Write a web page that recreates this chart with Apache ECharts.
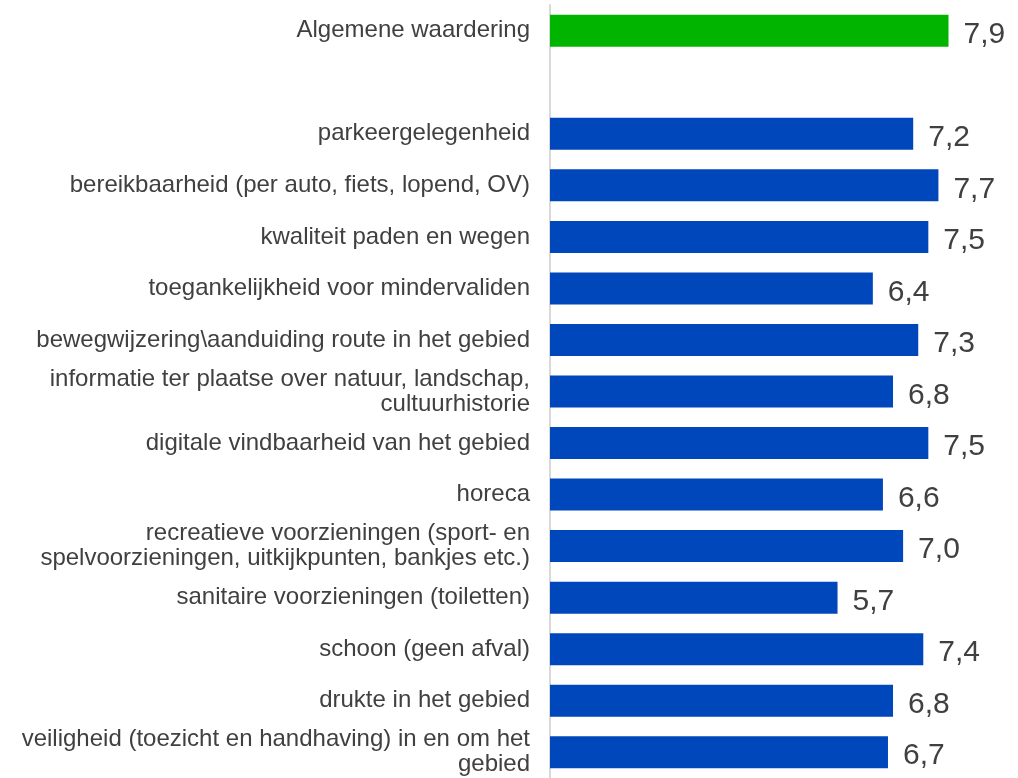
<!DOCTYPE html>
<html>
<head>
<meta charset="utf-8">
<title>Waardering gebied</title>
<script src="https://cdn.jsdelivr.net/npm/echarts@6/dist/echarts.min.js"></script>
<style>
  html, body { margin: 0; padding: 0; background: #fff; }
  #chart { width: 1018px; height: 778px; }
</style>
</head>
<body>
<div id="chart"></div>
<script>
// Rows from top to bottom; the empty row is the gap under the overall score
const categories = [
    'Algemene waardering',
    '',
    'parkeergelegenheid',
    'bereikbaarheid (per auto, fiets, lopend, OV)',
    'kwaliteit paden en wegen',
    'toegankelijkheid voor mindervaliden',
    'bewegwijzering\\aanduiding route in het gebied',
    'informatie ter plaatse over natuur, landschap,\ncultuurhistorie',
    'digitale vindbaarheid van het gebied',
    'horeca',
    'recreatieve voorzieningen (sport- en\nspelvoorzieningen, uitkijkpunten, bankjes etc.)',
    'sanitaire voorzieningen (toiletten)',
    'schoon (geen afval)',
    'drukte in het gebied',
    'veiligheid (toezicht en handhaving) in en om het\ngebied'
];
const scores = [7.9, null, 7.2, 7.7, 7.5, 6.4, 7.3, 6.8, 7.5, 6.6, 7.0, 5.7, 7.4, 6.8, 6.7];

const overallColor = '#00b400';
const itemColor = '#0047bb';

const chart = echarts.init(document.getElementById('chart'));

chart.setOption({
    animation: false,
    grid: { left: 550, right: 14, top: 5, height: 774 },
    xAxis: {
        type: 'value',
        min: 0,
        max: 9,
        show: false
    },
    yAxis: {
        type: 'category',
        data: categories,
        inverse: true,
        axisLine: { show: true, lineStyle: { color: '#d9d9d9', width: 2 } },
        axisTick: { show: false },
        axisLabel: {
            color: '#404040',
            fontFamily: 'Liberation Sans, Arial, sans-serif',
            fontSize: 24,
            lineHeight: 25,
            margin: 20,
            align: 'right'
        }
    },
    series: [{
        type: 'bar',
        barWidth: 32,
        data: scores.map((v, i) => ({
            value: v,
            itemStyle: { color: i === 0 ? overallColor : itemColor }
        })),
        label: {
            show: true,
            position: 'right',
            distance: 15,
            offset: [0, 4],
            color: '#404040',
            fontFamily: 'Liberation Sans, Arial, sans-serif',
            fontSize: 30,
            formatter: p => p.value == null ? '' : p.value.toFixed(1).replace('.', ',')
        }
    }]
});
</script>
</body>
</html>
